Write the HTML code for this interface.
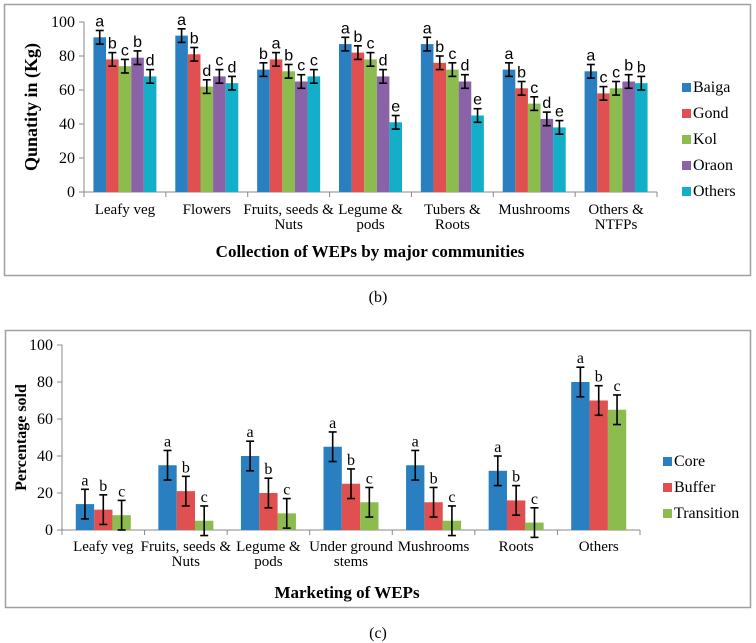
<!DOCTYPE html>
<html><head><meta charset="utf-8">
<style>
body{margin:0;background:#fff;width:756px;height:643px;overflow:hidden}
svg{display:block}
.ser{font-family:"Liberation Serif",serif}
.san{font-family:"Liberation Sans","DejaVu Sans",sans-serif}
</style></head>
<body>
<svg id="s" width="756" height="643" xmlns="http://www.w3.org/2000/svg">
<rect x="4.5" y="4.5" width="746" height="271" fill="#fff" stroke="#a0a0a0" stroke-width="1.5"/>
<rect x="5.5" y="330.5" width="745" height="277" fill="#fff" stroke="#a0a0a0" stroke-width="1.5"/>
<text x="378" y="302" text-anchor="middle" class="ser" font-size="16">(b)</text>
<text x="378" y="638" text-anchor="middle" class="ser" font-size="16">(c)</text>
</svg>
<script>
// Chart (b) data
const catsB=[["Leafy veg"],["Flowers"],["Fruits, seeds &","Nuts"],["Legume &","pods"],["Tubers &","Roots"],["Mushrooms"],["Others &","NTFPs"]];
const seriesB=["Baiga","Gond","Kol","Oraon","Others"];
const colorsB=["#2a7fc1","#e05050","#8cbb4e","#8a62a8","#13aec8"];
const baiga=[91,92,72,87,87,72,71];
const gond=[78,81,78,82,76,61,58];
const kol=[74,62,71,78,72,52,61];
const oraon=[79,68,65,68,65,43,65];
const othersB=[68,64,68,41,45,38,64];
const errB=[4,4,4,4,4,4,4];
const lettersB=[["a","b","c","b","d"],["a","b","d","c","d"],["b","a","b","c","c"],["a","b","c","d","e"],["a","b","c","d","e"],["a","b","c","d","e"],["a","c","c","b","b"]];
const ticksB=[0,20,40,60,80,100];
// Chart (c) data
const catsC=[["Leafy veg"],["Fruits, seeds &","Nuts"],["Legume &","pods"],["Under ground","stems"],["Mushrooms"],["Roots"],["Others"]];
const seriesC=["Core","Buffer","Transition"];
const colorsC=["#2a7fc1","#e05050","#8cbb4e"];
const core=[14,35,40,45,35,32,80];
const buffer=[11,21,20,25,15,16,70];
const transition=[8,5,9,15,5,4,65];
const errC=[8,8,8,8,8,8,8];
const lettersC=["a","b","c"];
const ticksC=[0,20,40,60,80,100];

const NS="http://www.w3.org/2000/svg";
const svg=document.getElementById('s');
function mk(tag,attrs,parent){const e=document.createElementNS(NS,tag);for(const k in attrs)e.setAttribute(k,attrs[k]);(parent||svg).appendChild(e);return e;}

function chart(o){
  const g=mk('g',{});
  
  
  const y=v=>o.y0-(v/100)*(o.y0-o.y100);
  const step=(o.xEnd-o.x0)/o.cats.length;
  const ya=mk('line',{x1:o.x0,y1:o.y100,x2:o.x0,y2:o.y0,stroke:'#888','stroke-width':1},g);
  
  
  const xa=mk('line',{x1:o.x0,y1:o.y0,x2:o.xEnd,y2:o.y0,stroke:'#888','stroke-width':1},g);
  
  
  o.ticks.forEach(t=>{
    mk('line',{x1:o.x0-5,x2:o.x0,y1:y(t),y2:y(t),stroke:'#888'},g);
    const tx=mk('text',{x:o.x0-9,y:y(t)+5,'text-anchor':'end','font-size':o.tfs,'class':'ser'},g);
    tx.textContent=t;
    
    
  });
  for(let i=0;i<=o.cats.length;i++){mk('line',{x1:o.x0+i*step,x2:o.x0+i*step,y1:o.y0,y2:o.y0+5,stroke:'#888'},g);}
  const n=o.vals.length;
  const bw=o.groupW/n;
  o.cats.forEach((c,i)=>{
    const cx=o.x0+i*step+step/2;
    const gx=cx-o.groupW/2;
    for(let s=0;s<n;s++){
      const v=o.vals[s][i];
      const bx=gx+s*bw;
      const r=mk('rect',{x:bx,y:y(v),width:bw,height:o.y0-y(v),fill:o.colors[s]},g);
      
      
      const e=o.err[i], mx=bx+bw/2;
      mk('line',{x1:mx,x2:mx,y1:y(v+e),y2:y(v-e),stroke:'#000','stroke-width':1.6},g);
      mk('line',{x1:mx-4,x2:mx+4,y1:y(v+e),y2:y(v+e),stroke:'#000','stroke-width':1.6},g);
      mk('line',{x1:mx-4,x2:mx+4,y1:y(v-e),y2:y(v-e),stroke:'#000','stroke-width':1.6},g);
      const lt=mk('text',{x:mx,y:y(v+e)-4,'text-anchor':'middle','font-size':o.lfs,'class':o.lclass},g);
      lt.textContent=o.letter(i,s);
      
      
    }
    c.forEach((line,k)=>{
      const ct=mk('text',{x:cx,y:o.labY+k*15,'text-anchor':'middle','font-size':15,'class':'ser'},g);
      ct.textContent=line;
      
      
    });
  });
  const xt=mk('text',{x:o.xtX,y:o.xtY,'text-anchor':'middle','font-size':17,'font-weight':'bold','class':'ser'},g);
  xt.textContent=o.xTitle;
  
  
  const yt=mk('text',{x:0,y:0,'text-anchor':'middle','font-size':o.ytfs,'font-weight':'bold','class':'ser',transform:`translate(${o.ytX},${(o.y0+o.y100)/2}) rotate(-90)`},g);
  yt.textContent=o.yTitle;
  
  
  o.series.forEach((s,k)=>{
    const ly=o.legY+k*o.legStep;
    const sq=mk('rect',{x:o.legX,y:ly-9,width:9,height:9,fill:o.colors[k]},g);
    
    
    const lt=mk('text',{x:o.legX+11,y:ly,'font-size':16,'class':'ser'},g);
    lt.textContent=s;
    
    
  });
}
chart({name:'chart-b',cats:catsB,series:seriesB,colors:colorsB,vals:[baiga,gond,kol,oraon,othersB],err:errB,
  letter:(i,s)=>lettersB[i][s],ticks:ticksB,x0:84,xEnd:657,y0:192,y100:22,groupW:63,tfs:16,lfs:16,lclass:'san',
  labY:214,xTitle:'Collection of WEPs by major communities',xtX:370,xtY:257,yTitle:'Qunatity in (Kg)',ytX:37,ytfs:18,
  legX:682,legY:92,legStep:26});
chart({name:'chart-c',cats:catsC,series:seriesC,colors:colorsC,vals:[core,buffer,transition],err:errC,
  letter:(i,s)=>lettersC[s],ticks:ticksC,x0:62,xEnd:640,y0:530,y100:345,groupW:55,tfs:16,lfs:16,lclass:'ser',
  labY:551,xTitle:'Marketing of WEPs',xtX:347,xtY:598,yTitle:'Percentage  sold',ytX:26,ytfs:16,
  legX:663,legY:466,legStep:26});
</script>
</body></html>
